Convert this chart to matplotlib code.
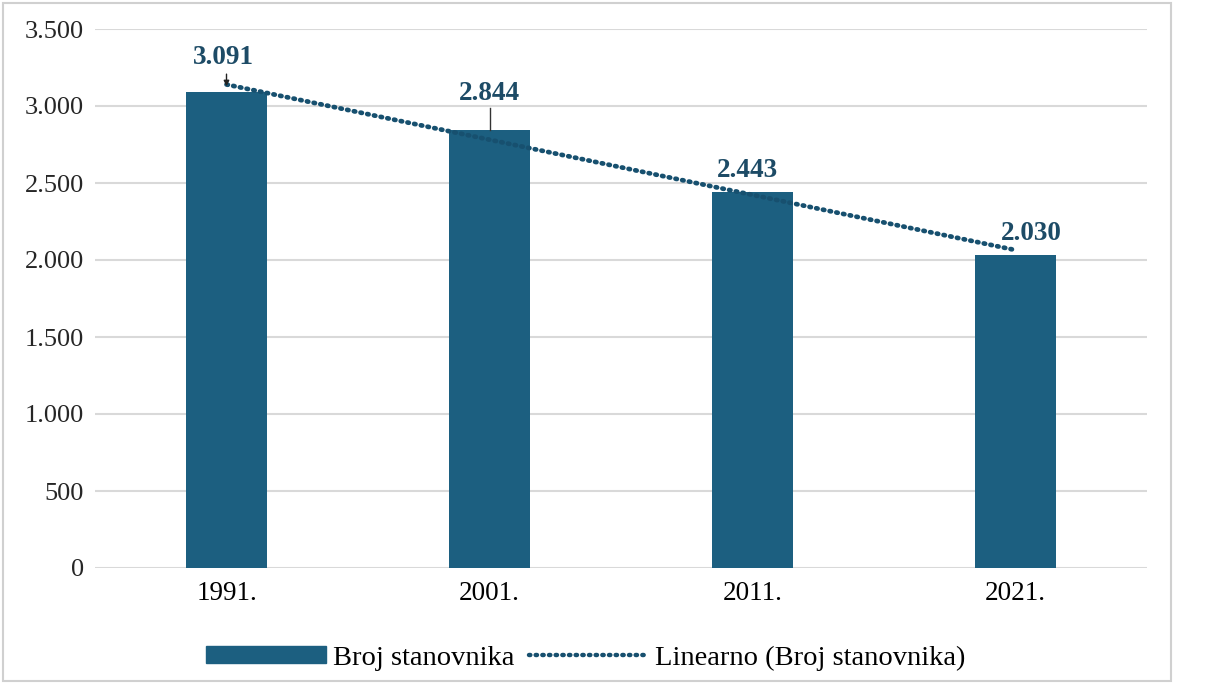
import matplotlib
matplotlib.use("Agg")
import matplotlib.pyplot as plt
import numpy as np
from matplotlib.lines import Line2D
from matplotlib.patches import Patch, Rectangle

godine = ["1991.", "2001.", "2011.", "2021."]
stanovnici = [3091, 2844, 2443, 2030]
oznake = ["3.091", "2.844", "2.443", "2.030"]
yticks = [0, 500, 1000, 1500, 2000, 2500, 3000, 3500]
ytick_labels = ["0", "500", "1.000", "1.500", "2.000", "2.500", "3.000", "3.500"]

bar_col = "#1c5f80"
txt_col = "#1d4b66"
grid_col = "#d9d9d9"
serif = "Liberation Serif"

fig = plt.figure(figsize=(12.23, 6.83), dpi=100)
ax = fig.add_axes([95 / 1223, 1 - 568 / 683, 1052 / 1223, 539 / 683])

x = np.arange(len(godine))
ax.bar(x, stanovnici, width=0.305, color=bar_col, zorder=2)

# linearni trend
k, n = np.polyfit(x, stanovnici, 1)
ax.plot(x, k * x + n, color="#17506f", lw=3.4, linestyle=(0, (0.3, 1.15)),
        dash_capstyle="round", zorder=3)

ax.set_xlim(-0.5, 3.5)
ax.set_ylim(0, 3500)
ax.set_yticks(yticks)
ax.set_yticklabels(ytick_labels, fontfamily=serif, fontsize=19, color="#262626")
ax.set_xticks(x)
ax.set_xticklabels(godine, fontfamily=serif, fontsize=19.5, color="#000000")
ax.tick_params(length=0)
ax.tick_params(axis="y", pad=8)
ax.tick_params(axis="x", pad=9)
ax.grid(axis="y", color=grid_col, lw=1.5, zorder=0)
for s in ax.spines.values():
    s.set_visible(False)

# oznake podataka
pos = [(-0.01, 3318), (1.0, 3084), (1.98, 2584), (3.06, 2175)]
for (px, py), t in zip(pos, oznake):
    ax.text(px, py, t, ha="center", va="center", fontfamily=serif,
            fontweight="bold", fontsize=19.5, color=txt_col, zorder=4)

ax.annotate("", xy=(0, 3110), xytext=(0, 3225),
            arrowprops=dict(arrowstyle="-|>", color="#222222", lw=1, mutation_scale=8))
ax.plot([1, 1], [2844, 2985], color="#333333", lw=1, zorder=4)

handles = [Patch(facecolor=bar_col, edgecolor=bar_col),
           Line2D([0], [0], color="#17506f", lw=3.2, linestyle=(0, (0.3, 1.2)),
                  dash_capstyle="round")]
fig.legend(handles, ["Broj stanovnika", "Linearno (Broj stanovnika)"],
           loc="center", bbox_to_anchor=(586 / 1223, 1 - 658 / 683), ncol=2,
           frameon=False, prop={"family": serif, "size": 20.5},
           handlelength=4.2, handleheight=0.55, columnspacing=0.5, handletextpad=0.25)

fig.patches.append(Rectangle((3 / 1223, 2 / 683), 1168 / 1223, 678 / 683,
                             transform=fig.transFigure, fill=False,
                             edgecolor="#d0d0d0", lw=1.5))

fig.savefig("out.png", dpi=100)
